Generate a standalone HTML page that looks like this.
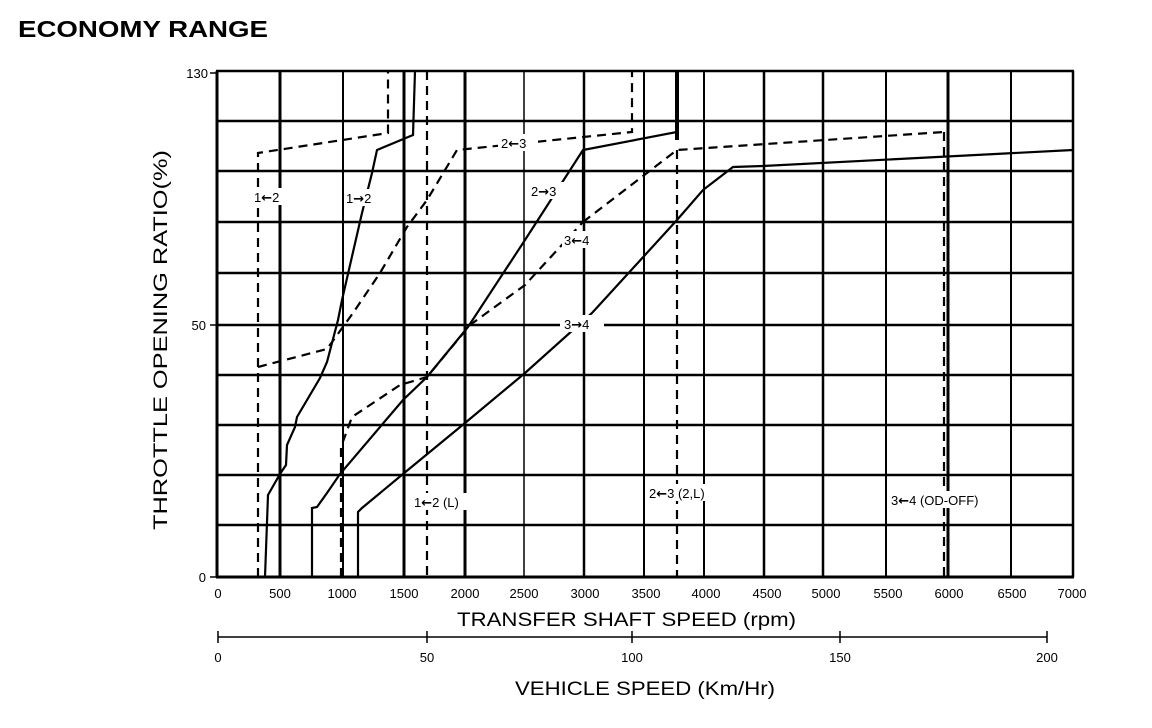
<!DOCTYPE html>
<html><head><meta charset="utf-8"><style>
body{margin:0;background:#fff;width:1152px;height:728px;overflow:hidden}
svg{display:block}
text{font-family:"Liberation Sans",sans-serif;fill:#000}
.a{font-family:"DejaVu Sans",sans-serif;font-weight:bold}
</style></head><body>
<svg width="1152" height="728" viewBox="0 0 1152 728">
<text x="18" y="37" font-size="23" font-weight="bold" textLength="250" lengthAdjust="spacingAndGlyphs">ECONOMY RANGE</text>
<g stroke="#000" stroke-width="2.5" fill="none">
<line x1="216" y1="71" x2="1074" y2="71"/>
<line x1="216" y1="121" x2="1074" y2="121"/>
<line x1="216" y1="171" x2="1074" y2="171"/>
<line x1="216" y1="222" x2="1074" y2="222"/>
<line x1="216" y1="273" x2="1074" y2="273"/>
<line x1="216" y1="325" x2="1074" y2="325"/>
<line x1="216" y1="375" x2="1074" y2="375"/>
<line x1="216" y1="425" x2="1074" y2="425"/>
<line x1="216" y1="475" x2="1074" y2="475"/>
<line x1="216" y1="525" x2="1074" y2="525"/>
<line x1="216" y1="577" x2="1074" y2="577" stroke-width="3"/>
<line x1="217" y1="71" x2="217" y2="577" stroke-width="3"/>
<line x1="280" y1="71" x2="280" y2="577" stroke-width="3"/>
<line x1="343" y1="71" x2="343" y2="577" stroke-width="2"/>
<line x1="404" y1="71" x2="404" y2="577" stroke-width="3"/>
<line x1="465" y1="71" x2="465" y2="577" stroke-width="3"/>
<line x1="524" y1="71" x2="524" y2="577" stroke-width="1.5"/>
<line x1="584" y1="71" x2="584" y2="577" stroke-width="2.5"/>
<line x1="644" y1="71" x2="644" y2="577" stroke-width="2"/>
<line x1="704" y1="71" x2="704" y2="577" stroke-width="2"/>
<line x1="764" y1="71" x2="764" y2="577" stroke-width="2.5"/>
<line x1="823" y1="71" x2="823" y2="577" stroke-width="2.5"/>
<line x1="886" y1="71" x2="886" y2="577" stroke-width="2"/>
<line x1="948" y1="71" x2="948" y2="577" stroke-width="3"/>
<line x1="1011" y1="71" x2="1011" y2="577" stroke-width="2"/>
<line x1="1073" y1="71" x2="1073" y2="577" stroke-width="2.5"/>
<line x1="210" y1="73" x2="217" y2="73" stroke-width="1.5"/>
<line x1="210" y1="325" x2="217" y2="325" stroke-width="1.5"/>
<line x1="210" y1="577" x2="217" y2="577" stroke-width="1.5"/>
</g>
<g stroke="#000" stroke-width="2.2" fill="none" stroke-dasharray="9,6">
<polyline points="258,577 258,153 388,133 388,71"/>
<polyline points="258,367 327,349 353,313 380,273 407,227 427,200 457,150 632,132 632,71"/>
<polyline points="341,577 341,447 352,417 400,385 427,377 470,325 525,285 583,222"/>
<polyline points="583,222 677,150 944,132"/>
<polyline points="427,71 427,577"/>
<polyline points="677,150 677,577"/>
<polyline points="944,132 944,577"/>
</g>
<g stroke="#000" stroke-width="2.2" fill="none">
<polyline points="265,577 268,495 280,474 286,465 287,445 295,427 297,417 320,378 327,362 338,320 342,300 362,213 372,173 377,150 413,135 415,71"/>
<polyline points="312,577 312,508 317,507 327,493 340,474 403,400 427,377 468,327 525,240 583,150 677,132 677,71" />
<polyline points="358,577 358,512 362,508 403,474 465,423 525,373 592,313 677,220 703,190 733,167 763,166 1073,150"/>
<line x1="583" y1="150" x2="583" y2="222"/>
<line x1="677" y1="71" x2="677" y2="140" stroke-width="4"/>
</g>
<g font-size="13">
<rect x="253" y="188" width="36" height="17" fill="#fff"/><text x="254" y="202">1<tspan class="a">←</tspan>2</text>
<rect x="344" y="189" width="38" height="17" fill="#fff"/><text x="346" y="203">1<tspan class="a">→</tspan>2</text>
<rect x="498" y="134" width="40" height="17" fill="#fff"/><text x="501" y="148">2<tspan class="a">←</tspan>3</text>
<rect x="529" y="182" width="40" height="17" fill="#fff"/><text x="531" y="196">2<tspan class="a">→</tspan>3</text>
<rect x="562" y="231" width="40" height="17" fill="#fff"/><text x="564" y="245">3<tspan class="a">←</tspan>4</text>
<rect x="560" y="315" width="44" height="17" fill="#fff"/><text x="564" y="329">3<tspan class="a">→</tspan>4</text>
<rect x="410" y="493" width="68" height="17" fill="#fff"/><text x="414" y="507">1<tspan class="a">←</tspan>2 (L)</text>
<rect x="646" y="484" width="76" height="17" fill="#fff"/><text x="649" y="498">2<tspan class="a">←</tspan>3 (2,L)</text>
<rect x="888" y="491" width="118" height="17" fill="#fff"/><text x="891" y="505">3<tspan class="a">←</tspan>4 (OD-OFF)</text>
</g>
<g font-size="13" text-anchor="end">
<text x="208" y="78">130</text>
<text x="206" y="330">50</text>
<text x="206" y="582">0</text>
</g>
<g font-size="13" text-anchor="middle">
<text x="218" y="598">0</text><text x="280" y="598">500</text><text x="342" y="598">1000</text><text x="404" y="598">1500</text><text x="465" y="598">2000</text><text x="524" y="598">2500</text><text x="585" y="598">3000</text><text x="646" y="598">3500</text><text x="706" y="598">4000</text><text x="767" y="598">4500</text><text x="826" y="598">5000</text><text x="888" y="598">5500</text><text x="949" y="598">6000</text><text x="1012" y="598">6500</text><text x="1072" y="598">7000</text>
</g>
<text x="457" y="626" font-size="19" textLength="339" lengthAdjust="spacingAndGlyphs">TRANSFER SHAFT SPEED (rpm)</text>
<g stroke="#000" stroke-width="1.5">
<line x1="218" y1="637" x2="1047" y2="637"/>
<line x1="218" y1="631" x2="218" y2="643"/>
<line x1="427" y1="631" x2="427" y2="643"/>
<line x1="632" y1="631" x2="632" y2="643"/>
<line x1="840" y1="631" x2="840" y2="643"/>
<line x1="1047" y1="631" x2="1047" y2="643"/>
</g>
<g font-size="13" text-anchor="middle">
<text x="218" y="662">0</text><text x="427" y="662">50</text><text x="632" y="662">100</text><text x="840" y="662">150</text><text x="1047" y="662">200</text>
</g>
<text x="515" y="695" font-size="19" textLength="260" lengthAdjust="spacingAndGlyphs">VEHICLE SPEED (Km/Hr)</text>
<text transform="translate(167,530) rotate(-90)" font-size="19" textLength="380" lengthAdjust="spacingAndGlyphs">THROTTLE OPENING RATIO(%)</text>
</svg>
</body></html>
